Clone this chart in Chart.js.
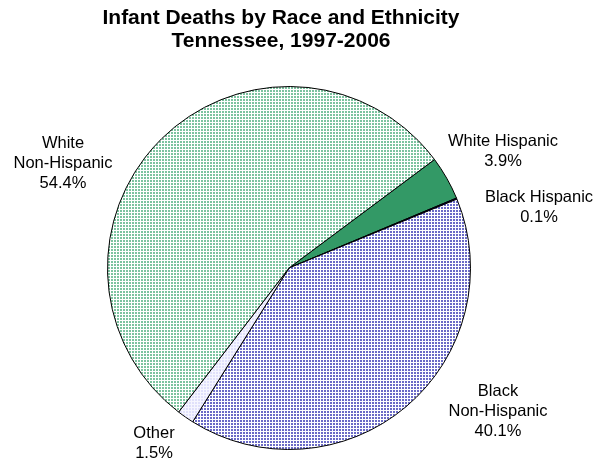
<!DOCTYPE html>
<html>
<head>
<meta charset="utf-8">
<script src="https://cdn.jsdelivr.net/npm/chart.js@4.4.1/dist/chart.umd.min.js"></script>
<style>
body{margin:0;background:#fff}
canvas{display:block}
</style>
</head>
<body>
<canvas id="pieHTML" width="603" height="459"></canvas>
<script>
const groups=["White Hispanic","Black Hispanic","Black Non-Hispanic","Other","White Non-Hispanic"]
const percents=[3.9,0.1,40.1,1.5,54.4]
const labelLines=[["White Hispanic"],["Black Hispanic"],["Black","Non-Hispanic"],["Other"],["White","Non-Hispanic"]]
const titleLines=["Infant Deaths by Race and Ethnicity","Tennessee, 1997-2006"]

// dotted fills, 3px tile with a 2x2 dot
function dotPattern(bg,dot){
const c=document.createElement('canvas')
c.width=3;c.height=3
const x=c.getContext('2d')
x.fillStyle=bg;x.fillRect(0,0,3,3)
x.fillStyle=dot;x.fillRect(0,0,2,2)
return x.createPattern(c,'repeat')
}
const ctx=document.getElementById('pieHTML').getContext('2d')
const fills=[
'#339966',
'#000080',
dotPattern('#ffffff','#6b6bc6'),
dotPattern('#f6f6ff','#e0e0fb'),
dotPattern('#ffffff','#7cc3a0')
]

// label text anchors, offset from the pie centre (x centre, first line y)
const labelOffsets=[[214,-127],[250,-71],[209,123],[-135,165],[-226,-125]]

const sliceLabelsPlugin={
id:'sliceLabels',
afterDraw(chart){
const arc=chart.getDatasetMeta(0).data[0]
const c=chart.ctx
c.save()
c.fillStyle='#000'
c.textAlign='center'
c.textBaseline='middle'
// title sits a little left of the pie centre
c.font='bold 21px "Liberation Sans", Arial, sans-serif'
c.fillText(titleLines[0],281,18)
c.fillText(titleLines[1],281,41)
c.font='16.5px "Liberation Sans", Arial, sans-serif'
percents.forEach((p,i)=>{
const lines=[...labelLines[i],p.toFixed(1)+'%']
const x=arc.x+labelOffsets[i][0]
let y=arc.y+labelOffsets[i][1]
lines.forEach(l=>{c.fillText(l,x,y);y+=20})
})
c.restore()
}
}

let chartPie=new Chart(ctx,{
type:'pie',
options:{
responsive:false,
animation:false,
rotation:53.3,
layout:{padding:{left:107,right:132,top:86,bottom:9}},
plugins:{
title:{display:false},
legend:{display:false},
tooltip:{enabled:false}
}
},
plugins:[sliceLabelsPlugin],
data:{
labels:groups,
datasets:[{
data:percents,
backgroundColor:fills,
borderColor:'#000',
borderWidth:1
}]
}
})
</script>
</body>
</html>
